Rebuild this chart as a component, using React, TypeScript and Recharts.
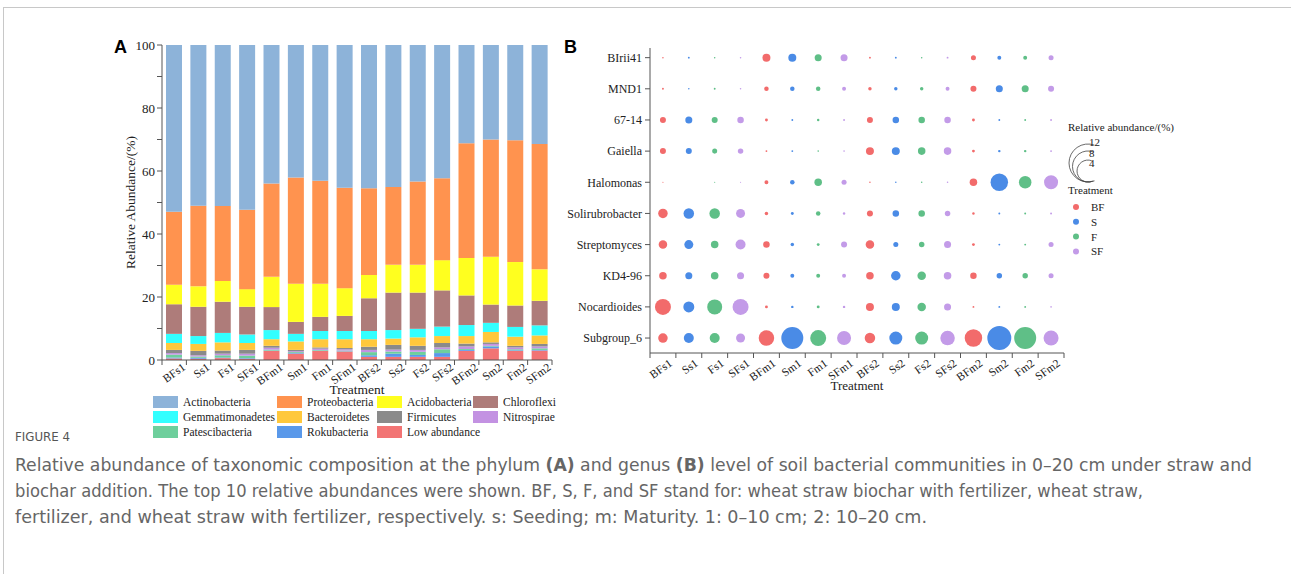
import React from 'react';
import { BarChart, Bar, XAxis, YAxis, Label, ScatterChart, Scatter, ZAxis } from 'recharts';

const treatments = ['BFs1', 'Ss1', 'Fs1', 'SFs1', 'BFm1', 'Sm1', 'Fm1', 'SFm1', 'BFs2', 'Ss2', 'Fs2', 'SFs2', 'BFm2', 'Sm2', 'Fm2', 'SFm2'];

// phylum level, % (stack order bottom -> top)
const lowAbundance = [0.5, 0.4, 0.6, 0.4, 2.9, 2.0, 2.9, 2.7, 1.0, 1.0, 1.0, 1.0, 2.9, 3.7, 2.9, 3.0];
const rokubacteria = [0.3, 0.3, 0.2, 0.2, 0.1, 0.2, 0.1, 0.1, 0.5, 1.0, 0.6, 1.2, 0.3, 0.6, 0.2, 0.2];
const patescibacteria = [0.9, 0.4, 0.7, 0.8, 0.3, 0.3, 0.2, 0.2, 1.0, 0.7, 1.0, 1.2, 0.3, 0.2, 0.3, 0.5];
const nitrospirae = [0.5, 0.4, 0.5, 0.6, 0.6, 0.3, 0.4, 0.4, 0.7, 0.6, 0.6, 0.6, 0.8, 0.6, 0.6, 0.6];
const firmicutes = [1.0, 1.4, 1.0, 1.2, 0.6, 0.4, 0.4, 0.4, 1.0, 1.5, 1.3, 1.4, 0.9, 0.5, 0.5, 0.8];
const bacteroidetes = [2.2, 2.2, 2.6, 2.2, 2.1, 2.7, 2.6, 2.8, 2.4, 2.0, 2.7, 2.2, 2.4, 3.3, 2.9, 2.7];
const gemmatimonadetes = [2.9, 2.5, 3.0, 2.7, 2.9, 2.4, 2.6, 2.6, 2.6, 2.7, 2.7, 3.0, 3.5, 2.9, 3.1, 3.2];
const chloroflexi = [9.4, 9.3, 9.9, 8.8, 7.3, 3.8, 4.5, 4.8, 10.4, 11.9, 11.5, 11.5, 9.4, 5.8, 6.8, 7.8];
const acidobacteria = [6.2, 6.5, 6.6, 5.6, 9.6, 12.1, 10.5, 8.8, 7.4, 8.8, 8.8, 9.6, 11.9, 15.2, 13.8, 10.0];
const proteobacteria = [23.2, 25.6, 23.8, 25.2, 29.6, 33.7, 32.7, 31.9, 27.5, 24.7, 26.5, 26.0, 36.4, 37.2, 38.7, 39.8];
const actinobacteria = [52.9, 51.0, 51.1, 52.3, 44.0, 42.1, 43.1, 45.3, 45.5, 45.1, 43.3, 42.3, 31.2, 30.0, 30.2, 31.4];

const phyla = [
  { key: 'Low abundance', values: lowAbundance, color: '#F27474' },
  { key: 'Rokubacteria', values: rokubacteria, color: '#5A99EA' },
  { key: 'Patescibacteria', values: patescibacteria, color: '#6ECF9C' },
  { key: 'Nitrospirae', values: nitrospirae, color: '#C392E2' },
  { key: 'Firmicutes', values: firmicutes, color: '#8A8A8A' },
  { key: 'Bacteroidetes', values: bacteroidetes, color: '#FFC83C' },
  { key: 'Gemmatimonadetes', values: gemmatimonadetes, color: '#33FFFF' },
  { key: 'Chloroflexi', values: chloroflexi, color: '#AE7C7A' },
  { key: 'Acidobacteria', values: acidobacteria, color: '#FFFF1F' },
  { key: 'Proteobacteria', values: proteobacteria, color: '#FF934F' },
  { key: 'Actinobacteria', values: actinobacteria, color: '#8DB3D9' },
];

const legendOrder = [
  'Actinobacteria', 'Proteobacteria', 'Acidobacteria', 'Chloroflexi',
  'Gemmatimonadetes', 'Bacteroidetes', 'Firmicutes', 'Nitrospirae',
  'Patescibacteria', 'Rokubacteria', 'Low abundance',
];

// genus level, % (rows top -> bottom)
const genera = ['BIrii41', 'MND1', '67-14', 'Gaiella', 'Halomonas', 'Solirubrobacter', 'Streptomyces', 'KD4-96', 'Nocardioides', 'Subgroup_6'];
const bIrii41 = [0.02, 0.03, 0.02, 0.02, 0.53, 0.53, 0.41, 0.41, 0.03, 0.03, 0.02, 0.03, 0.21, 0.13, 0.13, 0.21];
const mnd1 = [0.03, 0.02, 0.03, 0.02, 0.17, 0.17, 0.17, 0.13, 0.10, 0.10, 0.10, 0.13, 0.30, 0.41, 0.41, 0.30];
const g6714 = [0.30, 0.41, 0.30, 0.35, 0.07, 0.03, 0.05, 0.03, 0.30, 0.35, 0.35, 0.35, 0.07, 0.03, 0.03, 0.03];
const gaiella = [0.30, 0.30, 0.21, 0.25, 0.03, 0.03, 0.02, 0.02, 0.53, 0.53, 0.47, 0.47, 0.07, 0.05, 0.05, 0.03];
const halomonas = [0.01, 0.0, 0.01, 0.01, 0.13, 0.17, 0.47, 0.21, 0.02, 0.02, 0.02, 0.02, 0.47, 2.54, 1.30, 1.63];
const solirubrobacter = [0.75, 0.92, 0.92, 0.67, 0.10, 0.07, 0.17, 0.05, 0.30, 0.35, 0.35, 0.25, 0.05, 0.03, 0.03, 0.03];
const streptomyces = [0.60, 0.67, 0.47, 0.83, 0.35, 0.10, 0.07, 0.30, 0.60, 0.21, 0.25, 0.41, 0.07, 0.03, 0.03, 0.21];
const kd496 = [0.47, 0.41, 0.47, 0.41, 0.30, 0.13, 0.13, 0.13, 0.47, 0.75, 0.60, 0.47, 0.35, 0.25, 0.25, 0.21];
const nocardioides = [2.12, 1.00, 1.87, 2.12, 0.07, 0.05, 0.07, 0.05, 0.53, 0.53, 0.60, 0.41, 0.03, 0.03, 0.03, 0.02];
const subgroup6 = [0.75, 0.83, 0.83, 0.67, 1.99, 4.02, 2.12, 1.63, 0.92, 1.40, 1.40, 1.75, 2.54, 4.78, 4.02, 1.87];
const genusValues = [bIrii41, mnd1, g6714, gaiella, halomonas, solirubrobacter, streptomyces, kd496, nocardioides, subgroup6];

const groups = [
  { name: 'BF', color: '#F26B6B' },
  { name: 'S', color: '#4A8BE6' },
  { name: 'F', color: '#5FBF87' },
  { name: 'SF', color: '#C39BE8' },
];
const sizeLegend = [12, 8, 4];

const SERIF = '"Liberation Serif", "Times New Roman", serif';
const SANS = '"Liberation Sans", Arial, sans-serif';
const MAX_Z = 12;
const MAX_AREA = 1134;
const ROW_DOMAIN = [-0.31, 9.48];

const phylumRows = treatments.map((t, i) => {
  const row: Record<string, any> = { treatment: t };
  phyla.forEach(p => { row[p.key] = p.values[i]; });
  return row;
});

const bubbleSeries = groups.map(g => ({
  ...g,
  points: genera.flatMap((genus, r) =>
    treatments
      .map((t, c) => ({ t, c }))
      .filter(({ t }) => t.slice(0, -2) === g.name)
      .map(({ t, c }) => ({ x: c, y: r, z: genusValues[r][c], genus, treatment: t }))
  ),
}));

// label under the band centre, tick mark on the band edges
const BandTick = (props: any) => {
  const { x, y, payload, index, step, count, dx, dy } = props;
  const label = typeof payload.value === 'number' ? treatments[payload.value] : payload.value;
  const half = step / 2;
  const tx = x + dx;
  const ty = y + dy;
  return (
    <g>
      <line x1={x - half} x2={x - half} y1={y} y2={y + 5} stroke="#555" />
      {index === count - 1 && <line x1={x + half} x2={x + half} y1={y} y2={y + 5} stroke="#555" />}
      <text x={tx} y={ty} transform={`rotate(-35 ${tx} ${ty})`} textAnchor="end" fontSize={11.5} fontFamily={SERIF} fill="#222">
        {label}
      </text>
    </g>
  );
};

const PhylumChart = () => (
  <div style={{ position: 'absolute', left: 100, top: 35 }}>
    <BarChart width={470} height={400} data={phylumRows} margin={{ top: 10, right: 18, bottom: 35, left: 0 }} barSize={16}>
      <XAxis
        dataKey="treatment"
        interval={0}
        height={40}
        tickSize={0}
        tickMargin={0}
        tickLine={false}
        stroke="#555"
        tick={(p: any) => <BandTick {...p} step={390 / 16} count={16} dx={12} dy={9} />}
      >
        <Label value="Treatment" position="insideBottom" offset={6} style={{ fontFamily: SERIF, fontSize: 13.5, fill: '#222' }} />
      </XAxis>
      <YAxis
        width={62}
        domain={[0, 100]}
        ticks={[0, 10, 20, 30, 40, 50, 60, 70, 80, 90, 100]}
        interval={0}
        tickSize={5}
        tickMargin={2}
        stroke="#555"
        tick={(p: any) =>
          p.payload.value % 20 === 0 ? (
            <text x={p.x} y={p.y} dy={4.5} textAnchor="end" fontSize={13} fontFamily={SERIF} fill="#222">{p.payload.value}</text>
          ) : <g />
        }
      >
        <Label
          content={({ viewBox }: any) => {
            const cx = viewBox.x + 30;
            const cy = viewBox.y + viewBox.height / 2;
            return (
              <text x={cx} y={cy} transform={`rotate(-90 ${cx} ${cy})`} textAnchor="middle" dominantBaseline="central" fontSize={13.5} fontFamily={SERIF} fill="#222">
                Relative Abundance/(%)
              </text>
            );
          }}
        />
      </YAxis>
      <XAxis xAxisId="top" orientation="top" dataKey="treatment" height={0} tick={false} tickLine={false} stroke="#777" />
      <YAxis yAxisId="right" orientation="right" domain={[0, 100]} width={0} tick={false} tickLine={false} stroke="#777" />
      {phyla.map(p => (
        <Bar key={p.key} dataKey={p.key} stackId="a" fill={p.color} isAnimationActive={false} />
      ))}
    </BarChart>
  </div>
);

const PhylumLegend = () => {
  const colX = [53, 177, 277, 373];
  return (
    <div style={{ position: 'absolute', left: 100, top: 396, width: 470, height: 48, fontFamily: SERIF, fontSize: 11.5, color: '#222' }}>
      {legendOrder.map((name, i) => {
        const p = phyla.find(q => q.key === name)!;
        return (
          <div key={name} style={{ position: 'absolute', left: colX[i % 4], top: Math.floor(i / 4) * 15, display: 'flex', alignItems: 'center', height: 12 }}>
            <span style={{ width: 25, height: 12, background: p.color, display: 'inline-block', marginRight: 5 }} />
            <span style={{ whiteSpace: 'nowrap' }}>{name}</span>
          </div>
        );
      })}
    </div>
  );
};

const GenusChart = () => (
  <div style={{ position: 'absolute', left: 560, top: 35 }}>
    <ScatterChart width={520} height={370} margin={{ top: 13, right: 16, bottom: 7, left: 0 }}>
      <XAxis
        type="number"
        dataKey="x"
        domain={[-0.5, 15.5]}
        ticks={treatments.map((_, i) => i)}
        interval={0}
        allowDataOverflow
        height={45}
        tickSize={0}
        tickMargin={0}
        tickLine={false}
        stroke="#555"
        tick={(p: any) => <BandTick {...p} step={414 / 16} count={16} dx={10} dy={12} />}
      >
        <Label value="Treatment" position="insideBottom" offset={8} style={{ fontFamily: SERIF, fontSize: 13, fill: '#222' }} />
      </XAxis>
      <YAxis
        type="number"
        dataKey="y"
        domain={ROW_DOMAIN}
        reversed
        allowDataOverflow
        ticks={genera.map((_, i) => i)}
        interval={0}
        width={90}
        tickSize={5}
        tickMargin={3}
        stroke="#555"
        tickFormatter={(v: number) => genera[v]}
        tick={{ fontFamily: SERIF, fontSize: 12, fill: '#222' }}
      />
      <ZAxis type="number" dataKey="z" domain={[0, MAX_Z]} range={[0, MAX_AREA]} />
      <XAxis xAxisId="top" orientation="top" type="number" domain={[-0.5, 15.5]} allowDataOverflow height={0} tick={false} tickLine={false} stroke="#777" />
      <YAxis yAxisId="right" orientation="right" type="number" domain={ROW_DOMAIN} allowDataOverflow width={0} tick={false} tickLine={false} stroke="#777" />
      {bubbleSeries.map(s => (
        <Scatter key={s.name} name={s.name} data={s.points} fill={s.color} isAnimationActive={false} />
      ))}
    </ScatterChart>
  </div>
);

const GenusLegend = () => {
  const cx = 28;
  const bottom = 72;
  const arc = (r: number) => {
    const cy = bottom - r;
    const a1 = (-70 * Math.PI) / 180;
    const a2 = (70 * Math.PI) / 180;
    return `M ${cx + r * Math.cos(a1)} ${cy + r * Math.sin(a1)} A ${r} ${r} 0 1 0 ${cx + r * Math.cos(a2)} ${cy + r * Math.sin(a2)}`;
  };
  return (
    <svg style={{ position: 'absolute', left: 1060, top: 110 }} width={131} height={160} fontFamily={SERIF} fontSize={11}>
      <text x={8} y={21} fill="#222">Relative abundance/(%)</text>
      {sizeLegend.map((v, i) => {
        const r = Math.sqrt((MAX_AREA * v) / MAX_Z / Math.PI);
        return (
          <g key={v}>
            <path d={arc(r)} fill="none" stroke="#444" strokeWidth={0.8} />
            <text x={29} y={36 + i * 10.5} fill="#222">{v}</text>
          </g>
        );
      })}
      <text x={8} y={84} fill="#222">Treatment</text>
      {groups.map((g, i) => (
        <g key={g.name}>
          <circle cx={16} cy={97 + i * 14.8} r={3} fill={g.color} />
          <text x={31} y={101 + i * 14.8} fill="#222">{g.name}</text>
        </g>
      ))}
    </svg>
  );
};

const Caption = () => (
  <svg style={{ position: 'absolute', left: 0, top: 420 }} width={1291} height={154}>
    <g fontFamily={'"Liberation Sans Narrow", "DejaVu Sans Condensed", Roboto, sans-serif'} fill="#666">
      <text x={15} y={21} fontSize={12} textLength={55} lengthAdjust="spacingAndGlyphs" fill="#555">FIGURE 4</text>
      <text x={15} y={51} fontSize={17} textLength={1237} lengthAdjust="spacingAndGlyphs">
        Relative abundance of taxonomic composition at the phylum <tspan fontWeight="bold">(A)</tspan> and genus <tspan fontWeight="bold">(B)</tspan> level of soil bacterial communities in 0–20 cm under straw and
      </text>
      <text x={15} y={77} fontSize={17} textLength={1128} lengthAdjust="spacingAndGlyphs">
        biochar addition. The top 10 relative abundances were shown. BF, S, F, and SF stand for: wheat straw biochar with fertilizer, wheat straw,
      </text>
      <text x={15} y={103} fontSize={17} textLength={912} lengthAdjust="spacingAndGlyphs">
        fertilizer, and wheat straw with fertilizer, respectively. s: Seeding; m: Maturity. 1: 0–10 cm; 2: 10–20 cm.
      </text>
    </g>
  </svg>
);

const App = () => (
  <div style={{ position: 'absolute', left: 0, top: 0, width: 1291, height: 574, background: '#fff', overflow: 'hidden' }}>
    <div style={{ position: 'absolute', left: 3, top: 7, right: 0, bottom: 0, borderTop: '1px solid #c8c8c8', borderLeft: '1px solid #c8c8c8' }} />
    <div style={{ position: 'absolute', left: 114, top: 37, fontFamily: SANS, fontWeight: 'bold', fontSize: 18 }}>A</div>
    <div style={{ position: 'absolute', left: 564, top: 37, fontFamily: SANS, fontWeight: 'bold', fontSize: 18 }}>B</div>
    <PhylumChart />
    <PhylumLegend />
    <GenusChart />
    <GenusLegend />
    <Caption />
  </div>
);

export default App;
